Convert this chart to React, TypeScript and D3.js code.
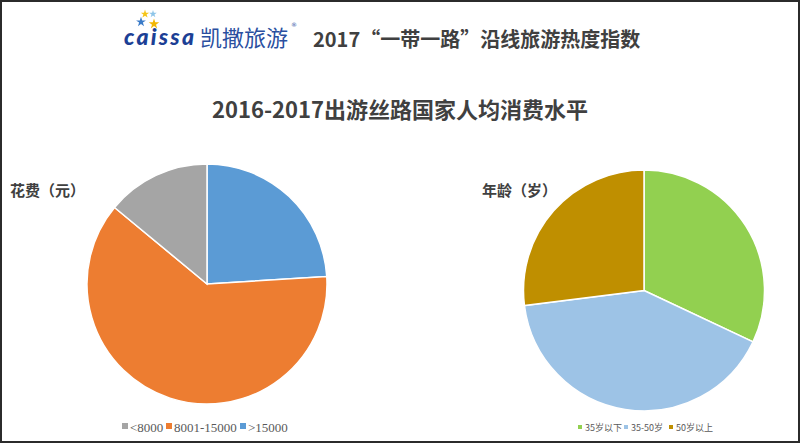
// @ts-nocheck
import React, { useRef, useEffect } from "react";
import * as d3 from "d3";

const spendLabels = [">15000", "8001-15000", "<8000"];
const spendValues = [24, 62, 14];
const spendColors = ["#5B9BD5", "#ED7D31", "#A5A5A5"];
const spendLegend = ["<8000", "8001-15000", ">15000"];

const ageLabels = ["35岁以下", "35-50岁", "50岁以上"];
const ageValues = [32, 41, 27];
const ageColors = ["#92D050", "#9DC3E6", "#BF8F00"];

const width = 800,
  height = 444;

const App = () => {
  const svgRef = useRef(null);

  useEffect(() => {
    const svg = d3.select(svgRef.current);
    svg.selectAll("*").remove();

    svg.append("rect").attr("width", width).attr("height", height).attr("fill", "#fff");

    // header logo
    const stars = [
      { x: 145, y: 14, c: "#F5C518", s: 22 },
      { x: 153, y: 14, c: "#8EC5E8", s: 18 },
      { x: 141, y: 22, c: "#3A7BC8", s: 30 },
      { x: 154, y: 24, c: "#F2B705", s: 34 },
    ];
    svg
      .append("g")
      .selectAll("path")
      .data(stars)
      .join("path")
      .attr("transform", (d) => `translate(${d.x},${d.y})`)
      .attr("d", (d) => d3.symbol(d3.symbolStar, d.s)())
      .attr("fill", (d) => d.c);

    svg
      .append("text")
      .attr("x", 124)
      .attr("y", 45)
      .attr("font-family", "Lato, 'DejaVu Sans', sans-serif")
      .attr("font-weight", 900)
      .attr("font-style", "italic")
      .attr("font-size", 23)
      .attr("fill", "#1C3F95")
      .attr("textLength", 70)
      .text("caissa");

    svg
      .append("text")
      .attr("x", 200)
      .attr("y", 46)
      .attr("font-family", "'Noto Sans CJK SC', sans-serif")
      .attr("font-size", 22)
      .attr("fill", "#2A4F9F")
      .text("凯撒旅游");
    svg
      .append("text")
      .attr("x", 291)
      .attr("y", 27)
      .attr("font-family", "'DejaVu Sans', sans-serif")
      .attr("font-size", 6)
      .attr("fill", "#2A4F9F")
      .text("®");

    svg
      .append("text")
      .attr("x", 313)
      .attr("y", 47)
      .attr("font-family", "'Noto Sans CJK SC', sans-serif")
      .attr("font-weight", 700)
      .attr("font-size", 20)
      .attr("fill", "#404040")
      .text("2017“一带一路”沿线旅游热度指数");

    // chart title
    svg
      .append("text")
      .attr("x", 400)
      .attr("y", 118)
      .attr("text-anchor", "middle")
      .attr("font-family", "'Noto Sans CJK SC', sans-serif")
      .attr("font-weight", 700)
      .attr("font-size", 22)
      .attr("fill", "#404040")
      .text("2016-2017出游丝路国家人均消费水平");

    const pie = d3.pie().sort(null).value((d) => d);

    const drawPie = (values, colors, cx, cy, r) => {
      const arc = d3.arc().innerRadius(0).outerRadius(r);
      svg
        .append("g")
        .attr("transform", `translate(${cx},${cy})`)
        .selectAll("path")
        .data(pie(values))
        .join("path")
        .attr("d", arc)
        .attr("fill", (d, i) => colors[i])
        .attr("stroke", "#fff")
        .attr("stroke-width", 1.5);
    };

    drawPie(spendValues, spendColors, 207, 284, 120);
    drawPie(ageValues, ageColors, 644, 290.5, 120.5);

    const subTitle = (x, label) =>
      svg
        .append("text")
        .attr("x", x)
        .attr("y", 196)
        .attr("font-family", "'Noto Sans CJK SC', sans-serif")
        .attr("font-weight", 700)
        .attr("font-size", 15)
        .attr("fill", "#404040")
        .text(label);
    subTitle(10, "花费（元）");
    subTitle(482, "年龄（岁）");

    // left legend
    const legL = svg.append("g").attr("font-family", "'Liberation Serif', 'DejaVu Serif', serif").attr("font-size", 13).attr("fill", "#595959");
    const legLX = [122, 166, 240];
    const colorByLabel = { "<8000": "#A5A5A5", "8001-15000": "#ED7D31", ">15000": "#5B9BD5" };
    spendLegend.forEach((lab, i) => {
      legL.append("rect").attr("x", legLX[i]).attr("y", 423).attr("width", 6).attr("height", 6).attr("fill", colorByLabel[lab]);
      legL.append("text").attr("x", legLX[i] + 8).attr("y", 432).text(lab);
    });

    // right legend
    const legR = svg.append("g").attr("font-family", "'Noto Sans CJK SC', sans-serif").attr("font-size", 9).attr("fill", "#595959");
    const legRX = [578, 624, 669];
    ageLabels.forEach((lab, i) => {
      legR.append("rect").attr("x", legRX[i]).attr("y", 425).attr("width", 4).attr("height", 4).attr("fill", ageColors[i]);
      legR.append("text").attr("x", legRX[i] + 7).attr("y", 430.5).text(lab);
    });

    // frame
    svg
      .append("rect")
      .attr("x", 1)
      .attr("y", 1)
      .attr("width", width - 2)
      .attr("height", height - 3)
      .attr("fill", "none")
      .attr("stroke", "#2b2b2b")
      .attr("stroke-width", 2);
  }, []);

  return (
    <div style={{ position: "fixed", left: 0, top: 0 }}>
      <svg ref={svgRef} width={width} height={height} style={{ display: "block" }}></svg>
    </div>
  );
};

export default App;
